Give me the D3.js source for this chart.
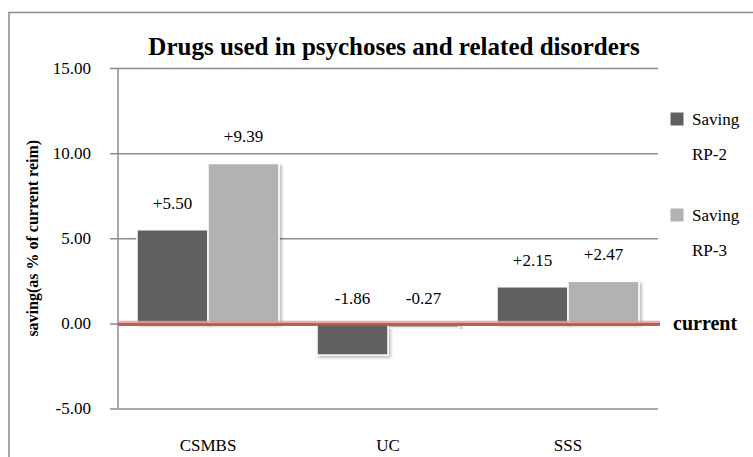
<!DOCTYPE html>
<html>
<head>
<meta charset="utf-8">
<script src="https://cdn.jsdelivr.net/npm/d3@7"></script>
<style>
  html, body { margin: 0; padding: 0; background: #fff; }
  svg { display: block; }
</style>
</head>
<body>
<svg id="chart" width="753" height="457"></svg>
<script>
// Savings relative to current reimbursement, by scheme
const categories = ["CSMBS", "UC", "SSS"];
const seriesNames = ["Saving RP-2", "Saving RP-3"];
const rp2Values = [5.50, -1.86, 2.15];
const rp3Values = [9.39, -0.27, 2.47];
const yTicks = [-5, 0, 5, 10, 15];
const legendLines = [["Saving", "RP-2"], ["Saving", "RP-3"]];

const colors = ["#606060", "#b2b2b2"];
const gridColor = "#8c8c8c";
const serif = "Liberation Serif";

const svg = d3.select("#chart").attr("font-family", serif);

// soft shadow for the bars
const defs = svg.append("defs");
const shadow = defs.append("filter").attr("id", "barShadow")
  .attr("x", "-20%").attr("y", "-20%").attr("width", "140%").attr("height", "140%");
shadow.append("feDropShadow").attr("dx", 2).attr("dy", 2).attr("stdDeviation", 1.8)
  .attr("flood-color", "#000").attr("flood-opacity", 0.28);

// outer frame
svg.append("rect").attr("x", 9).attr("y", 12.5).attr("width", 760).attr("height", 460)
  .attr("fill", "none").attr("stroke", gridColor).attr("stroke-width", 1.5);

const plot = { left: 118, right: 658, top: 68, bottom: 408.5 };

const x0 = d3.scaleBand().domain(categories).range([plot.left, plot.right]).paddingInner(0).paddingOuter(0);
const groupPad = 19;
const x1 = d3.scaleBand().domain(seriesNames)
  .range([groupPad, x0.bandwidth() - groupPad]).padding(0);
const y = d3.scaleLinear().domain([-5, 15]).range([plot.bottom, plot.top]);

const tickFmt = d => d3.format(".2f")(d).replace("\u2212", "-");

// gridlines with tick stubs
const yAxis = d3.axisLeft(y).tickValues(yTicks).tickSize(-(plot.right - plot.left + 8))
  .tickFormat(tickFmt);
const yG = svg.append("g").attr("transform", `translate(${plot.right},0)`).call(yAxis);
yG.select(".domain").remove();
yG.selectAll(".tick line").attr("stroke", gridColor).attr("stroke-width", 1.5)
  .attr("x1", 0).attr("x2", -(plot.right - plot.left + 8));
yG.selectAll(".tick text").remove();

// tick labels
svg.append("g").selectAll("text").data(yTicks).join("text")
  .attr("font-family", serif)
  .attr("x", 91).attr("y", d => y(d)).attr("dy", "0.35em")
  .attr("text-anchor", "end").attr("font-size", 17).attr("fill", "#000")
  .text(tickFmt);

// vertical axis
svg.append("line").attr("x1", plot.left).attr("x2", plot.left)
  .attr("y1", y(15)).attr("y2", y(-5)).attr("stroke", gridColor).attr("stroke-width", 1.5);

// bars
const rows = categories.map((c, i) => ({
  cat: c,
  vals: [
    { name: seriesNames[0], v: rp2Values[i], k: 0 },
    { name: seriesNames[1], v: rp3Values[i], k: 1 }
  ]
}));

const groups = svg.append("g").selectAll("g").data(rows).join("g")
  .attr("transform", d => `translate(${x0(d.cat)},0)`);

groups.selectAll("rect").data(d => d.vals).join("rect")
  .attr("x", d => x1(d.name))
  .attr("width", x1.bandwidth())
  .attr("y", d => y(Math.max(0, d.v)))
  .attr("height", d => Math.abs(y(d.v) - y(0)))
  .attr("fill", d => colors[d.k])
  .attr("stroke", "#fff").attr("stroke-width", 1.5)
  .attr("filter", "url(#barShadow)");

// value labels
const fmt = v => (v > 0 ? "+" : "-") + Math.abs(v).toFixed(2);
groups.selectAll("text.val").data(d => d.vals).join("text")
  .attr("class", "val").attr("font-family", serif)
  .attr("x", d => x1(d.name) + x1.bandwidth() / 2)
  .attr("y", d => d.v >= 0 ? y(d.v) - 27 : y(0) - 25)
  .attr("dy", "0.35em")
  .attr("text-anchor", "middle").attr("font-size", 17).attr("fill", "#000")
  .text(d => fmt(d.v));

// reference line for current reimbursement
svg.append("line").attr("x1", plot.left).attr("x2", plot.right + 2)
  .attr("y1", y(0) - 1.5).attr("y2", y(0) - 1.5)
  .attr("stroke", "#e29a98").attr("stroke-width", 2.5).attr("opacity", 0.8);
svg.append("line").attr("x1", plot.left).attr("x2", plot.right + 2)
  .attr("y1", y(0) + 1).attr("y2", y(0) + 1)
  .attr("stroke", "#c0504d").attr("stroke-width", 3).attr("opacity", 0.9);
svg.append("text").attr("font-family", serif)
  .attr("x", 673).attr("y", y(0)).attr("dy", "0.35em")
  .attr("font-size", 20).attr("font-weight", "bold").attr("fill", "#000")
  .text("current");

// category labels
svg.append("g").selectAll("text").data(categories).join("text")
  .attr("font-family", serif)
  .attr("x", d => x0(d) + x0.bandwidth() / 2).attr("y", 451)
  .attr("text-anchor", "middle").attr("font-size", 17).attr("fill", "#000")
  .text(d => d);

// axis title
svg.append("text").attr("font-family", serif)
  .attr("transform", `translate(38,${(y(15) + y(-5)) / 2}) rotate(-90)`)
  .attr("text-anchor", "middle").attr("font-size", 16).attr("font-weight", "bold")
  .text("saving(as % of current reim)");

// chart title
svg.append("text").attr("font-family", serif)
  .attr("x", 394).attr("y", 55).attr("text-anchor", "middle")
  .attr("font-size", 25).attr("font-weight", "bold")
  .text("Drugs used in psychoses and related disorders");

// legend
const legendY = [119, 215];
const leg = svg.append("g").selectAll("g").data(legendLines).join("g")
  .attr("transform", (d, i) => `translate(670,${legendY[i]})`);
leg.append("rect").attr("x", 0).attr("y", -7).attr("width", 14).attr("height", 14)
  .attr("fill", (d, i) => colors[i]).attr("stroke", "#fff").attr("stroke-width", 1);
leg.selectAll("text").data(d => d).join("text")
  .attr("font-family", serif)
  .attr("x", 22).attr("y", (d, j) => j * 35).attr("dy", "0.35em")
  .attr("font-size", 17).attr("fill", "#000")
  .text(d => d);
</script>
</body>
</html>
